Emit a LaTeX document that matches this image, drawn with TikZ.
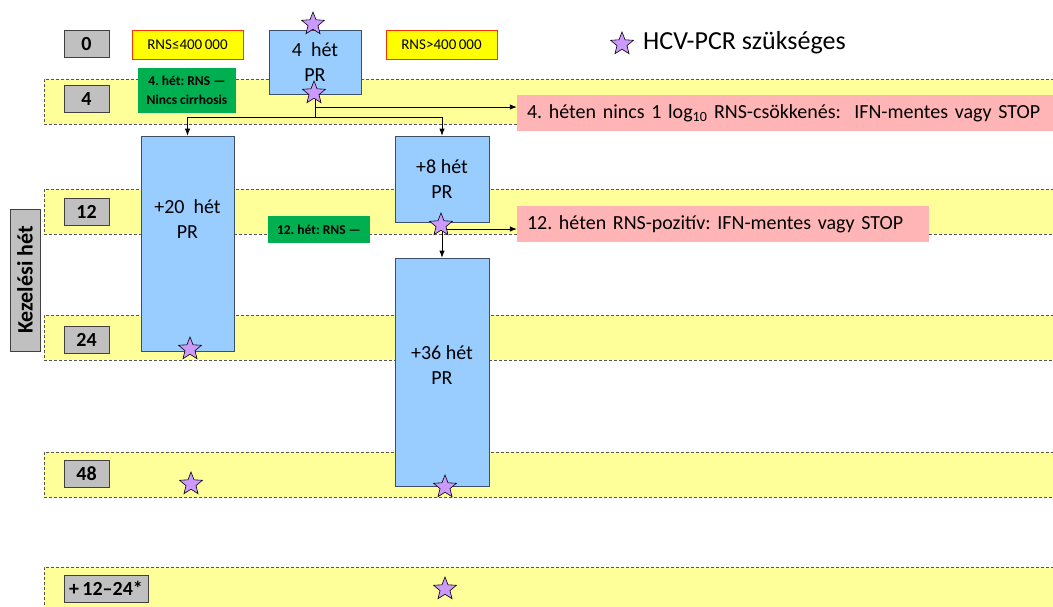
\documentclass[tikz,border=0pt]{standalone}
\usepackage{fontspec}
\setmainfont{Carlito}
\frenchspacing
\usetikzlibrary{shapes.geometric,arrows.meta}
\definecolor{bandyellow}{HTML}{FFFF99}
\definecolor{banddash}{HTML}{555555}
\definecolor{greyfill}{HTML}{C0C0C0}
\definecolor{greydraw}{HTML}{404040}
\definecolor{bluefill}{HTML}{99CCFF}
\definecolor{bluedraw}{HTML}{3B4F6B}
\definecolor{greenfill}{HTML}{00B050}
\definecolor{pinkfill}{HTML}{FFB5B5}
\definecolor{yelfill}{HTML}{FFFF00}
\definecolor{yeldraw}{HTML}{FF3300}
\definecolor{starfill}{HTML}{CC99FF}
\tikzset{
  band/.style={draw=banddash, fill=bandyellow, dash pattern=on 3pt off 2pt, line width=0.8pt, inner sep=0pt},
  weekbox/.style={draw=greydraw, fill=greyfill, line width=0.8pt, inner sep=0pt, font=\fontsize{20}{24}\selectfont\bfseries},
  bluebox/.style={draw=bluedraw, fill=bluefill, line width=0.8pt, inner sep=0pt, align=center, font=\fontsize{20}{25}\selectfont},
  bluetext/.style={inner sep=0pt, align=center, font=\fontsize{20}{25}\selectfont},
  greenbox/.style={fill=greenfill, inner sep=0pt, align=center, font=\fontsize{13.5}{19}\selectfont\bfseries},
  pinkbox/.style={fill=pinkfill, inner ysep=0pt, inner xsep=10pt, align=left, font=\fontsize{20}{24}\selectfont},
  yelbox/.style={draw=yeldraw, fill=yelfill, line width=0.8pt, inner sep=0pt, font=\fontsize{15}{18}\selectfont},
  pcrstar/.style={star, star points=5, star point ratio=2.3, draw=black, fill=starfill, line width=0.6pt, minimum size=24pt, inner sep=0pt},
  conn/.style={draw=black, line width=0.8pt},
  arr/.style={conn, -{Latex[length=7pt,width=5.5pt]}}
}
\begin{document}
\begin{tikzpicture}[x=1pt,y=-1pt]
\useasboundingbox (0,0) rectangle (1053,606);
% bands
\node[band, minimum width=1020, minimum height=45] (band4)  at (554,101.5) {};
\node[band, minimum width=1020, minimum height=45] (band12) at (554,211.5) {};
\node[band, minimum width=1020, minimum height=45] (band24) at (554,337.5) {};
\node[band, minimum width=1020, minimum height=45] (band48) at (554,474.5) {};
\node[band, minimum width=1020, minimum height=55] (bandX)  at (554,594.5) {};
% week boxes
\node[weekbox, minimum width=45, minimum height=27] (w0)  at (86.5,44) {0};
\node[weekbox, minimum width=45, minimum height=27] (w4)  at (86.5,99) {4};
\node[weekbox, minimum width=45, minimum height=27] (w12) at (86.5,211.5) {12};
\node[weekbox, minimum width=45, minimum height=27] (w24) at (86.5,340) {24};
\node[weekbox, minimum width=45, minimum height=27] (w48) at (86.5,473.5) {48};
\node[weekbox, minimum width=84, minimum height=27] (wX)  at (106,588.5) {+\,12–24*};
\node[weekbox, rotate=90, minimum width=142, minimum height=30, font=\fontsize{22}{26}\selectfont\bfseries] (kez) at (25,280) {Kezelési hét};
% yellow boxes
\node[yelbox, minimum width=111, minimum height=29] (y1) at (187.5,45) {RNS≤400\,000};
\node[yelbox, minimum width=111, minimum height=29] (y2) at (441.5,45) {RNS>400\,000};
% blue boxes
\node[bluebox, minimum width=92, minimum height=64] (b4) at (315,62) {4~ hét\\PR};
\node[bluebox, minimum width=93, minimum height=215] (b20) at (187.5,243.5) {};
\node[bluetext] (t20) at (187.5,219) {+20~ hét\\PR};
\node[bluebox, minimum width=94, minimum height=86] (b8) at (442,179) {+8 hét\\PR};
\node[bluebox, minimum width=94, minimum height=228] (b36) at (442,372) {};
\node[bluetext] (t36) at (442,365) {+36 hét\\PR};
% green boxes
\node[greenbox, minimum width=98, minimum height=45] (g4) at (187,90.5) {4. hét: RNS —\\Nincs cirrhosis};
\node[greenbox, minimum width=102, minimum height=27] (g12) at (319,229.5) {12. hét: RNS —};
% pink boxes
\node[pinkbox, text width=523, minimum height=36] (r4) at (788.5,113) {4. héten nincs 1 log\textsubscript{10} RNS-csökkenés:~ IFN-mentes vagy STOP};
\node[pinkbox, text width=392, minimum height=36] (r12) at (723,224) {12. héten RNS-pozitív: IFN-mentes vagy STOP};
% connectors
\coordinate (j4a) at (315,107);
\coordinate (j4b) at (315,117);
\coordinate (j12) at (442,229);
\draw[conn] (b4.south) -- (j4b);
\draw[arr] (j4a) -- (j4a -| r4.west);
\draw[arr] (j4b) -| (b20.north);
\draw[arr] (j4b) -| (b8.north);
\draw[arr] (j12) -- (j12 -| r12.west);
\draw[arr] (b8.south) -- (b36.north);
% stars
\node[pcrstar] (s4t) at (313,24) {};
\node[pcrstar] (s4b) at (314,93) {};
\node[pcrstar] (s20) at (190,349) {};
\node[pcrstar] (s8) at (441,225) {};
\node[pcrstar] (s48) at (191,484) {};
\node[pcrstar] (s36) at (445,487) {};
\node[pcrstar] (sX) at (445,589) {};
\node[pcrstar] (sL) at (622,44) {};
\node[anchor=west, inner sep=0pt, font=\fontsize{26}{30}\selectfont] (legend) at (643,43) {HCV-PCR szükséges};
\end{tikzpicture}
\end{document}
